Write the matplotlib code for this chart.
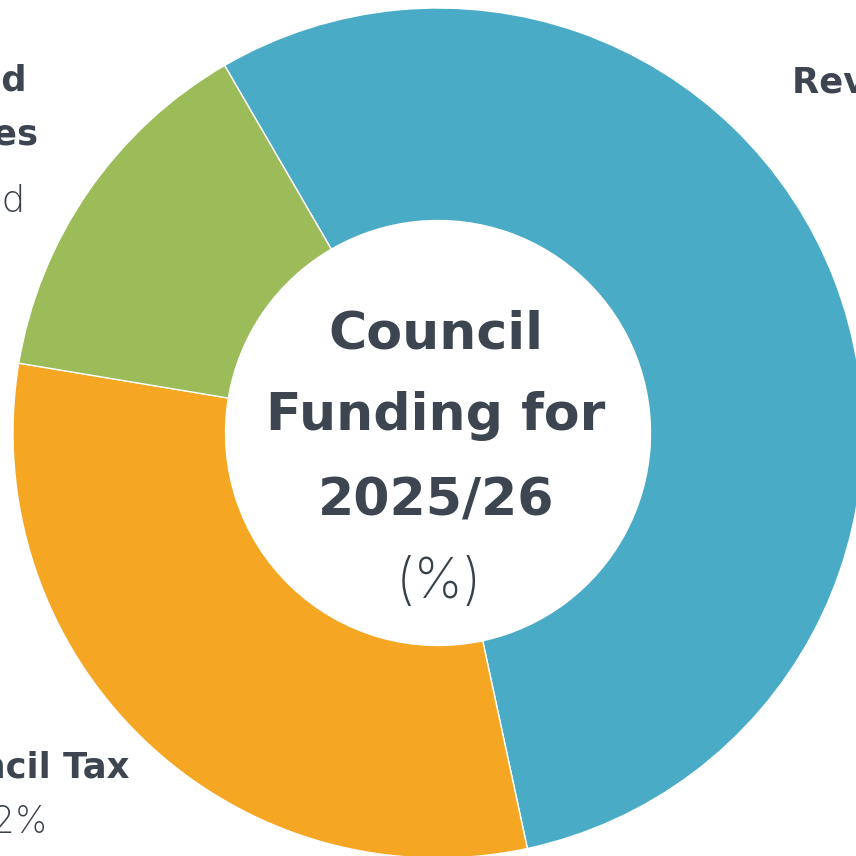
import matplotlib
matplotlib.use("Agg")
import matplotlib.pyplot as plt

# funding shares (%), clockwise from the blue/green boundary
sources = ["Revenue Support Grant", "Council Tax", "Fees and Charges"]
shares = [55.0, 31.0, 14.0]
colours = ["#4AABC6", "#F5A623", "#9CBB59"]

centre_lines = ["Council", "Funding for", "2025/26"]
centre_unit = "(%)"
green_lines = ["Fees and", "Charges"]
green_note = "14% combined"
tax_pct = "32%"

text_col = "#3D4650"
W = 856
bold_font = ['DejaVu Sans']
light_font = ['Inter', 'DejaVu Sans']

fig = plt.figure(figsize=(W / 100, W / 100), dpi=100)
ax = fig.add_axes([0, 0, 1, 1])
ax.set_xlim(0, W)
ax.set_ylim(0, W)
ax.set_aspect('equal')
ax.axis('off')

cx, cy = 438, W - 433
R = 425
ax.pie(shares, colors=colours, center=(cx, cy), radius=R,
       startangle=120.14, counterclock=False,
       wedgeprops=dict(width=R - 212.5, edgecolor='white', linewidth=1))
ax.set_xlim(0, W)
ax.set_ylim(0, W)

def y(v):
    return W - v

# centre title
for line, base in zip(centre_lines, [348, 430, 515]):
    ax.text(436, y(base), line, ha='center', va='baseline', fontsize=37.5,
            fontweight='bold', family=bold_font, color=text_col)
ax.text(439, y(598), centre_unit, ha='center', va='baseline', fontsize=40,
        fontweight='light', family=light_font, color="#38404A")

# outer labels (cropped at the canvas edge)
ax.text(792, y(93), sources[0], ha='left', va='baseline', fontsize=25.5,
        fontweight='bold', family=bold_font, color=text_col)
ax.text(130, y(778), sources[1], ha='right', va='baseline', fontsize=25.5,
        fontweight='bold', family=bold_font, color=text_col)
ax.text(48, y(833), tax_pct, ha='right', va='baseline', fontsize=27,
        fontweight='light', family=light_font, color="#38404A")
ax.text(27, y(90), green_lines[0], ha='right', va='baseline', fontsize=25.5,
        fontweight='bold', family=bold_font, color=text_col)
ax.text(38, y(145), green_lines[1], ha='right', va='baseline', fontsize=25.5,
        fontweight='bold', family=bold_font, color=text_col)
ax.text(24, y(212), green_note, ha='right', va='baseline', fontsize=27,
        fontweight='light', family=light_font, color="#38404A")

fig.savefig("out.png", dpi=100, facecolor='white')
